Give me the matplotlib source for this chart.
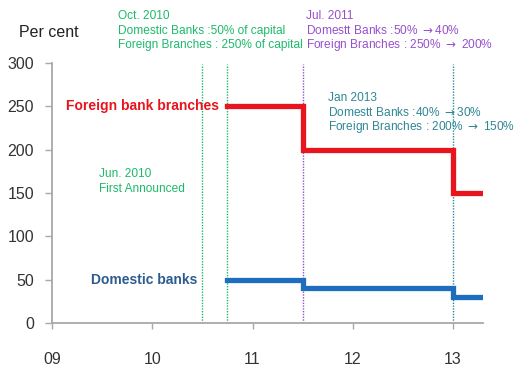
import matplotlib
matplotlib.use("Agg")
import matplotlib.pyplot as plt

plt.rcParams['font.family'] = ['Liberation Sans', 'DejaVu Sans']

# Step series: date (years since 2000) and ratio limit (% of capital)
step_x = [10.75, 11.5, 13.0, 13.28]
foreign_vals = [250, 200, 150, 150]
domestic_vals = [50, 40, 30, 30]

# Policy event dates
event_x = [10.5, 10.75, 11.5, 13.0]

x_ticks = [9, 10, 11, 12, 13]
x_labels = ['09', '10', '11', '12', '13']
y_ticks = [0, 50, 100, 150, 200, 250, 300]

green = '#1DBA6A'
purple = '#9650CC'
teal = '#2F8796'
red = '#E8141E'
blue = '#1E6EC0'
event_colors = [green, green, purple, teal]

fig = plt.figure(figsize=(5.2, 3.7), dpi=100)
ax = fig.add_axes([0.1, 0.127, 0.829, 0.703])

for x, c in zip(event_x, event_colors):
    ax.plot([x, x], [0, 299], color=c, lw=1.0, ls=(0, (1, 1)), zorder=1)

ax.step(step_x, foreign_vals, where='post', color=red, lw=3.8, zorder=3,
        solid_joinstyle='miter')
ax.step(step_x, domestic_vals, where='post', color=blue, lw=3.8, zorder=3,
        solid_joinstyle='miter')

ax.set_xlim(9, 13.3)
ax.set_ylim(0, 300)
ax.set_xticks(x_ticks)
ax.set_xticklabels(x_labels)
ax.set_yticks(y_ticks)
for s in ['top', 'right']:
    ax.spines[s].set_visible(False)
for s in ['left', 'bottom']:
    ax.spines[s].set_color('#A8A8A8')
    ax.spines[s].set_linewidth(1.3)
ax.tick_params(axis='both', colors='#A8A8A8', length=4, width=1,
               labelsize=11.5, labelcolor='#333333')
ax.tick_params(axis='x', pad=17)
ax.tick_params(axis='y', pad=8, length=5)

fig.text(0.037, 0.911, 'Per cent', fontsize=11.5, color='#222222', va='center')

ARR = r'$\rightarrow$'


def note(lines, xy, coords, color):
    """Stack lines of text at an even pitch below the anchor point."""
    for i, line in enumerate(lines):
        ax.annotate(line, xy=xy, xycoords=coords, xytext=(0, -i * 10.6),
                    textcoords='offset points', fontsize=8.6, color=color,
                    va='center', ha='left', annotation_clip=False)


note(['Oct. 2010', 'Domestic Banks :50% of capital',
      'Foreign Branches : 250% of capital'],
     (0.226, 0.957), fig.transFigure, green)
note(['Jul. 2011', 'Domestt Banks :50% ' + ARR + '40%',
      'Foreign Branches : 250% ' + ARR + ' 200%'],
     (0.588, 0.957), fig.transFigure, purple)
note(['Jan 2013', 'Domestt Banks :40% ' + ARR + '30%',
      'Foreign Branches : 200% ' + ARR + ' 150%'],
     (11.75, 260), 'data', teal)
note(['Jun. 2010', 'First Announced'], (9.47, 172), 'data', green)

ax.text(10.67, 250, 'Foreign bank branches', fontsize=10, color=red,
        fontweight='bold', va='center', ha='right')
ax.text(10.45, 50, 'Domestic banks', fontsize=10, color='#2C5C8E',
        fontweight='bold', va='center', ha='right')

fig.savefig('out.png', dpi=100)
